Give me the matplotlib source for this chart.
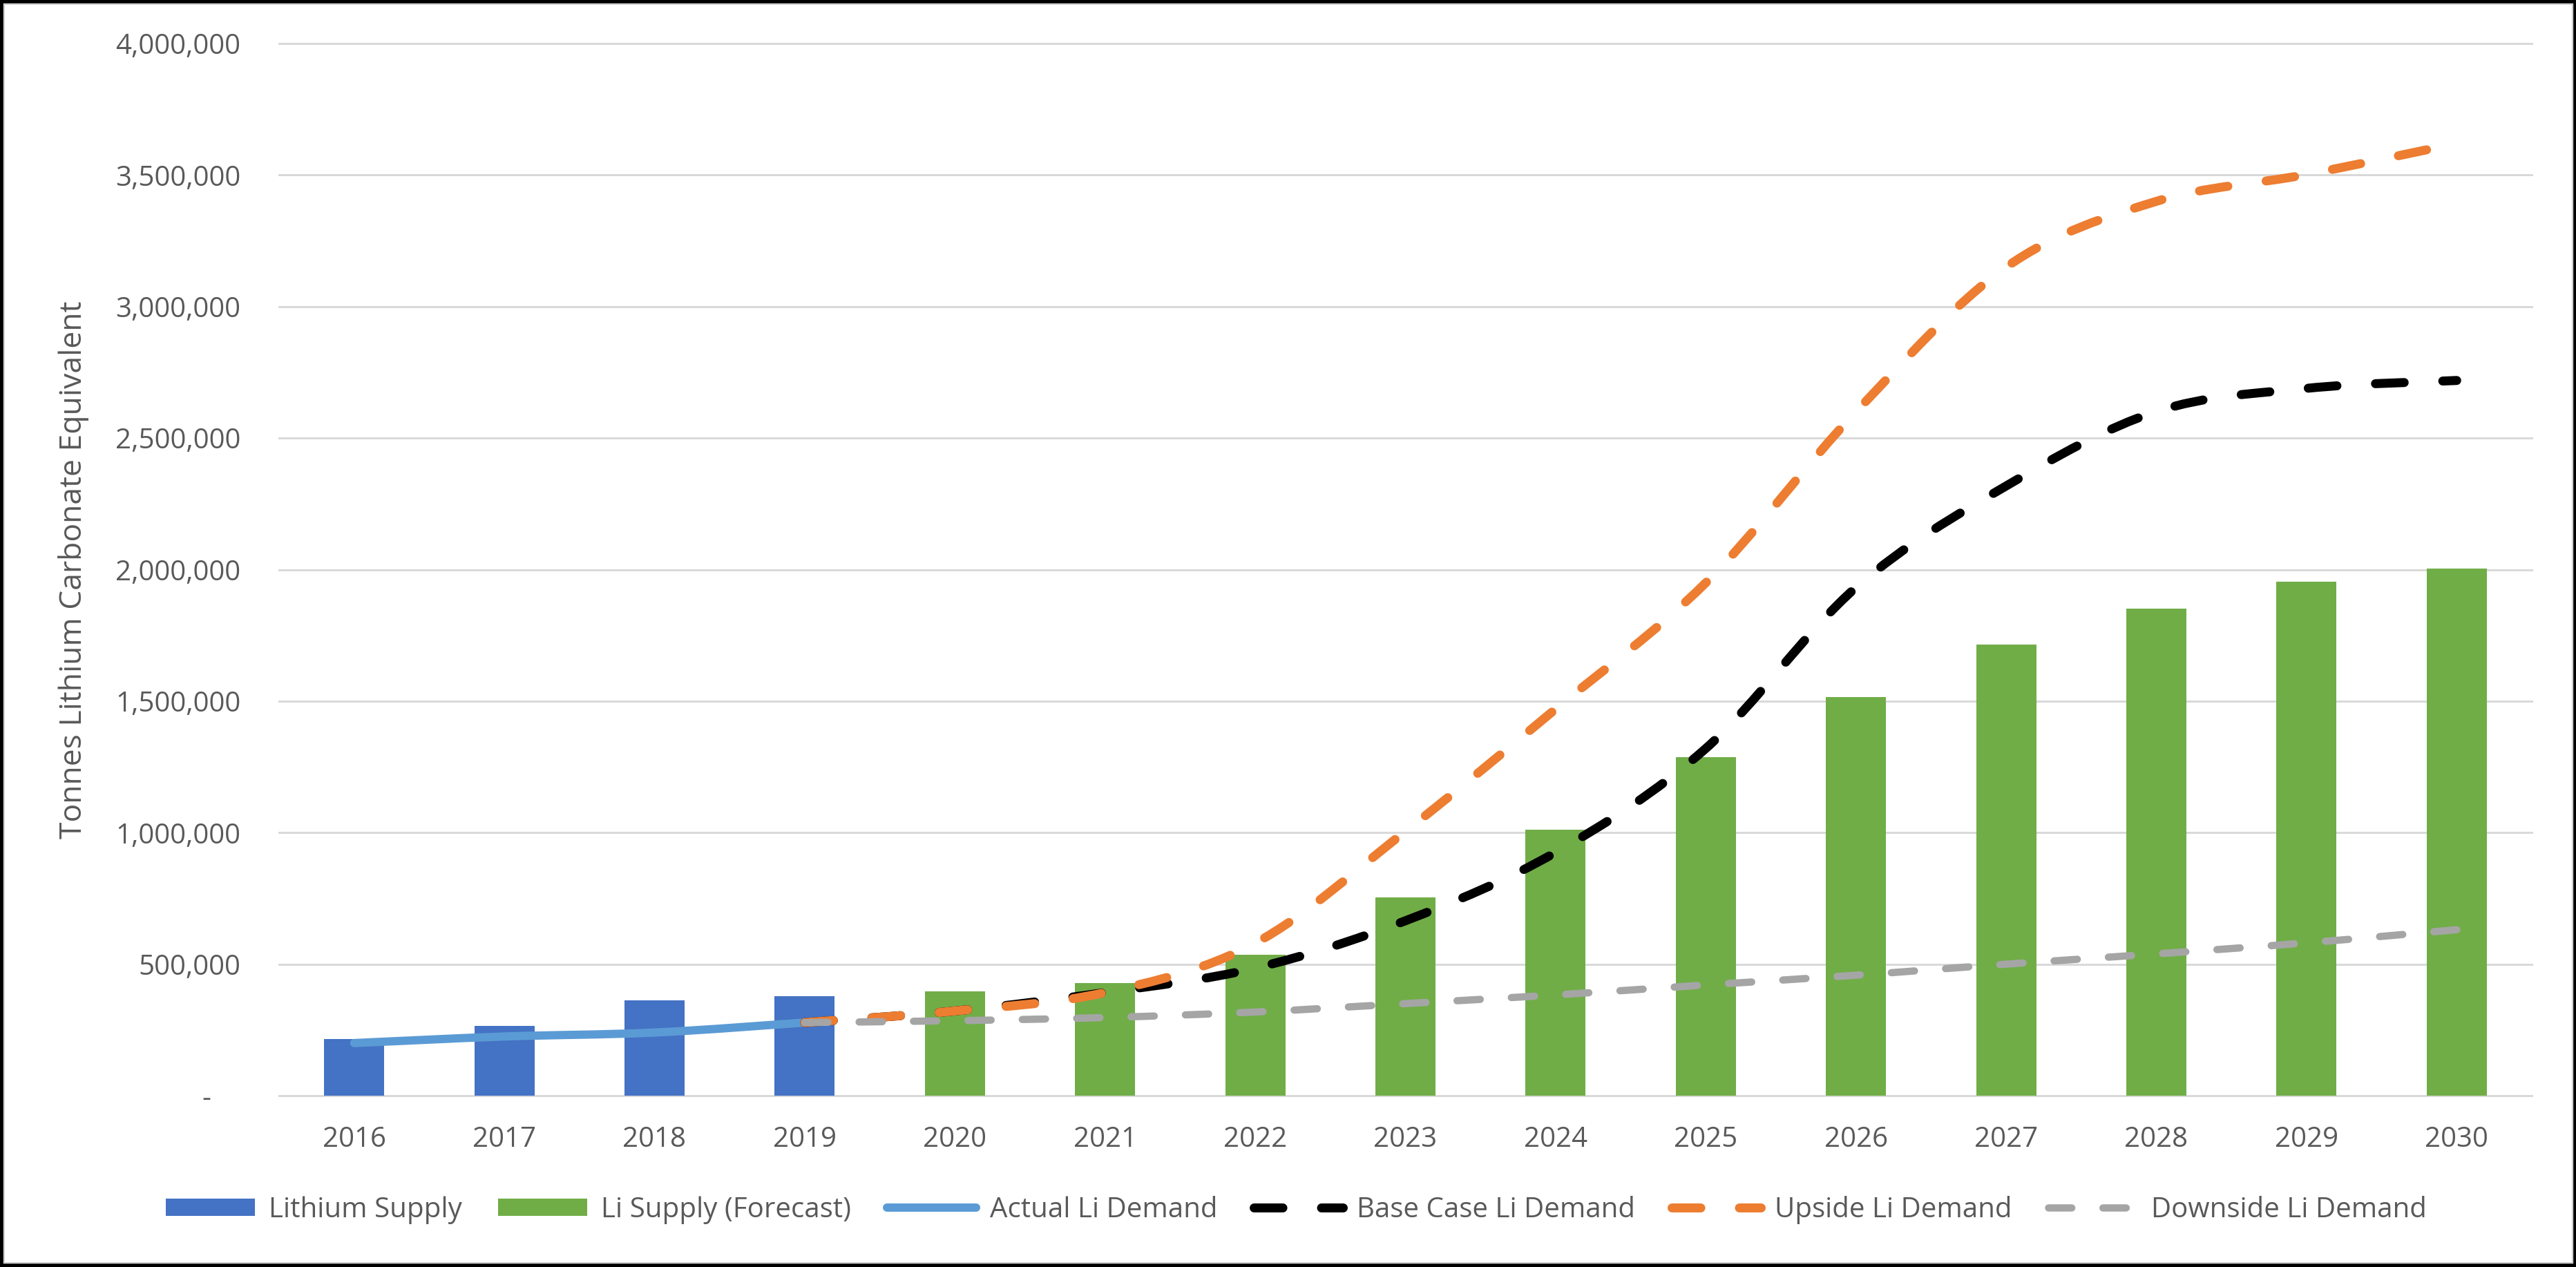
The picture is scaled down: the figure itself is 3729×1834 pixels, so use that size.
import numpy as np
import matplotlib
matplotlib.use("Agg")
import matplotlib.pyplot as plt
from matplotlib.path import Path
from matplotlib.patches import PathPatch, Rectangle, Patch
from matplotlib.lines import Line2D
from matplotlib.ticker import FuncFormatter, MultipleLocator

plt.rcParams['font.family'] = ['Open Sans', 'DejaVu Sans']

# ---------------- data ----------------
years = [str(y) for y in range(2016, 2031)]

supply_years = years[:4]
supply = [216000, 266000, 363000, 379000]

forecast_years = years[4:]
forecast = [397000, 429000, 537000, 753000, 1010000, 1287000, 1516000,
            1716000, 1851000, 1953000, 2003000]

actual_years = years[:4]
actual = [200000, 225000, 240000, 278000]

scenario_years = years[3:]
base_case = [278000, 322000, 392000, 485000, 665000, 925000, 1320000,
             1932000, 2318000, 2601000, 2689000, 2719000]
upside = [278000, 322000, 392000, 580000, 1005000, 1470000, 1950000,
          2600000, 3150000, 3400000, 3502000, 3620000]
downside = [278000, 285000, 297000, 318000, 350000, 383000, 421000,
            458000, 500000, 539000, 581000, 631000]

y_ticks = list(range(0, 4000001, 500000))

# ---------------- style ----------------
C_SUPPLY = '#4472C4'
C_FORECAST = '#70AD47'
C_ACTUAL = '#5B9BD5'
C_BASE = '#000000'
C_UP = '#ED7D31'
C_DOWN = '#A5A5A5'
C_GRID = '#D9D9D9'
C_TEXT = '#595959'
FS = 29
DASH = (0, (3.2, 4.3))

fig = plt.figure(figsize=(37.30, 18.34), dpi=100)
ax = fig.add_axes([404 / 3730, 1 - 1586 / 1834, (3665 - 404) / 3730, (1586 - 63) / 1834])

idx = {y: i for i, y in enumerate(years)}


def xs_of(ylist):
    return np.array([idx[y] for y in ylist], dtype=float)


def smooth_path(xs, ys):
    pts = np.column_stack([xs, ys]).astype(float)
    n = len(pts)
    verts = [pts[0]]
    codes = [Path.MOVETO]
    for i in range(n - 1):
        p0 = pts[i - 1] if i > 0 else pts[i]
        p1 = pts[i]
        p2 = pts[i + 1]
        p3 = pts[i + 2] if i + 2 < n else pts[i + 1]
        c1 = p1 + (p2 - p0) / 6.0
        c2 = p2 - (p3 - p1) / 6.0
        verts += [c1, c2, p2]
        codes += [Path.CURVE4] * 3
    return Path(verts, codes)


ax.bar(xs_of(supply_years), supply, width=0.4, color=C_SUPPLY, zorder=2)
ax.bar(xs_of(forecast_years), forecast, width=0.4, color=C_FORECAST, zorder=2)


def add_line(ylist, vals, color, lw_px, dashed, z):
    p = PathPatch(smooth_path(xs_of(ylist), vals), fill=False, edgecolor=color,
                  linewidth=lw_px * 0.72, zorder=z, capstyle='round', joinstyle='round')
    if dashed:
        p.set_linestyle(DASH)
    ax.add_patch(p)


add_line(actual_years, actual, C_ACTUAL, 12, False, 3)
add_line(scenario_years, base_case, C_BASE, 13, True, 4)
add_line(scenario_years, upside, C_UP, 13, True, 5)
add_line(scenario_years, downside, C_DOWN, 10.5, True, 6)

ax.set_xlim(-0.5, len(years) - 0.5)
ax.set_ylim(0, 4000000)
ax.set_xticks(np.arange(len(years)))
ax.set_xticklabels(years)
ax.set_yticks(y_ticks)
ax.yaxis.set_major_formatter(FuncFormatter(lambda v, p: '-    ' if v == 0 else f'{v:,.0f}'))
ax.grid(axis='y', color=C_GRID, linewidth=3 * 0.72, zorder=0)
ax.set_axisbelow(True)
for s in ax.spines.values():
    s.set_visible(False)
ax.tick_params(axis='both', length=0, labelsize=FS, labelcolor=C_TEXT)
ax.tick_params(axis='y', pad=40)
ax.tick_params(axis='x', pad=31)
for gl in ax.yaxis.get_gridlines():
    gl.set_clip_on(False)

fig.text(107 / 3730, 1 - 825 / 1834, 'Tonnes Lithium Carbonate Equivalent', rotation=90,
         ha='center', va='center', fontsize=32, color=C_TEXT)

handles = [
    Patch(facecolor=C_SUPPLY, edgecolor='none'),
    Patch(facecolor=C_FORECAST, edgecolor='none'),
    Line2D([], [], color=C_ACTUAL, linewidth=12 * 0.72, solid_capstyle='round'),
    Line2D([], [], color=C_BASE, linewidth=13 * 0.72, linestyle=DASH, dash_capstyle='round'),
    Line2D([], [], color=C_UP, linewidth=13 * 0.72, linestyle=DASH, dash_capstyle='round'),
    Line2D([], [], color=C_DOWN, linewidth=10.5 * 0.72, linestyle=DASH, dash_capstyle='round'),
]
labels = ['Lithium Supply', 'Li Supply (Forecast)', 'Actual Li Demand',
          'Base Case Li Demand', 'Upside Li Demand', 'Downside Li Demand']
leg = fig.legend(handles, labels, loc='center', bbox_to_anchor=(0.503, 1 - 1751 / 1834),
                 ncol=6, frameon=False, fontsize=FS, handlelength=3.2, handleheight=0.6,
                 handletextpad=0.5, columnspacing=1.3)
for t in leg.get_texts():
    t.set_color(C_TEXT)

# outer border
fig.patches.append(Rectangle((0, 0), 1, 1, transform=fig.transFigure, fill=False,
                             edgecolor='black', linewidth=7, zorder=10))
fig.patches.append(Rectangle((6 / 3730, 6 / 1834), 1 - 12 / 3730, 1 - 12 / 1834,
                             transform=fig.transFigure, fill=False,
                             edgecolor='#D0D0D0', linewidth=1.5, zorder=10))

fig.savefig('out.png', dpi=100, facecolor='white')
